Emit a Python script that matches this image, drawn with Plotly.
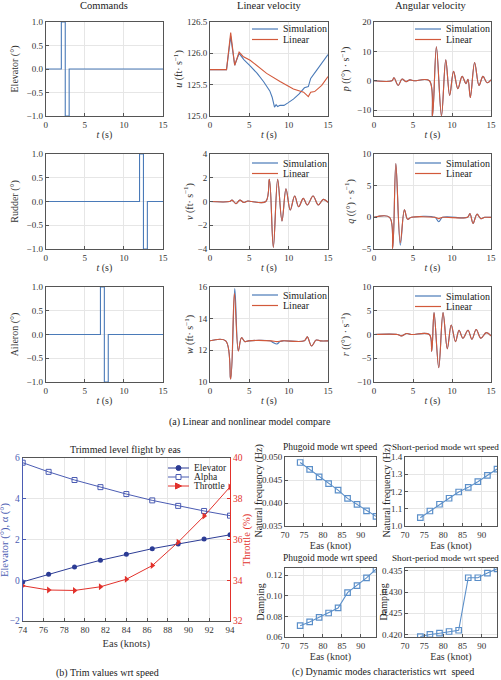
import plotly.graph_objects as go

W, H = 501, 680

# ---------------- (a) commands, deg ----------------
elev_t = [0, 2, 2, 2.5, 2.5, 3, 3, 15]
elev_cmd = [0, 0, 1, 1, -1, -1, 0, 0]
rud_t = [0, 12, 12, 12.5, 12.5, 13, 13, 15]
rud_cmd = [0, 0, 1, 1, -1, -1, 0, 0]
ail_t = [0, 7, 7, 7.5, 7.5, 8, 8, 15]
ail_cmd = [0, 0, 1, 1, -1, -1, 0, 0]

# linear velocity (ft/s)
u_sim_t = [0, 2.1, 2.63, 3.14, 3.7, 4.3, 5.1, 6.0, 6.8, 7.6, 7.9, 8.05, 8.2, 8.4, 8.6,
           8.9, 9.4, 9.9, 10.6, 11.3, 12.0, 12.5, 12.8, 13.5, 14.2, 15]
u_sim = [125.74, 125.74, 126.27, 125.81, 126.0, 125.9, 125.8, 125.68, 125.55, 125.4,
         125.3, 125.22, 125.14, 125.18, 125.15, 125.17, 125.17, 125.21, 125.27, 125.35,
         125.45, 125.47, 125.6, 125.72, 125.84, 125.98]
u_lin_t = [0, 2.1, 2.63, 3.14, 3.7, 4.2, 5.1, 6.0, 7.2, 8.9, 10.6, 11.9, 12.5, 12.8,
           13.3, 14.2, 15]
u_lin = [125.74, 125.74, 126.33, 125.81, 126.02, 125.95, 125.89, 125.8, 125.68, 125.55,
         125.43, 125.38, 125.31, 125.38, 125.39, 125.49, 125.63]

v_t = [0, 2.5, 2.8, 3.3, 3.8, 4.3, 4.8, 5.3, 7.1, 7.55, 8.05, 8.6, 9.15, 9.66, 10.2,
       10.76, 11.27, 11.86, 12.37, 13.1, 13.77, 14.4, 15]
v_sim = [0, 0, 0.12, -0.18, 0.12, -0.08, 0.04, 0, 0, 1.87, -3.86, 1.87, -1.64, 1.08,
         -0.72, 0.46, -0.44, 0.26, -0.3, 0.46, -0.3, 0.18, -0.07]
v_lin = [0, 0, 0.12, -0.18, 0.12, -0.08, 0.04, 0, 0, 1.87, -3.86, 1.87, -1.64, 1.08,
         -0.72, 0.46, -0.44, 0.26, -0.3, 0.46, -0.3, 0.18, -0.07]

w_sim_t = [0, 2.0, 2.63, 3.15, 3.6, 4.0, 4.45, 4.9, 7.6, 8.0, 8.5, 8.9, 9.3, 12.0,
           12.37, 12.9, 13.5, 14.0, 15]
w_sim = [12.6, 12.6, 10.19, 15.9, 11.96, 12.8, 12.55, 12.6, 12.6, 12.5, 12.4, 12.55,
         12.6, 12.6, 12.85, 12.27, 12.65, 12.6, 12.6]
w_lin_t = [0, 2.0, 2.63, 3.1, 3.6, 4.0, 4.45, 4.9, 7.8, 8.5, 9.2, 12.0, 12.37, 12.9,
           13.5, 14.0, 15]
w_lin = [12.6, 12.6, 10.19, 15.6, 11.96, 12.8, 12.55, 12.6, 12.6, 12.55, 12.6, 12.6,
         12.85, 12.27, 12.65, 12.6, 12.6]

# angular velocity (deg/s)
p_t = [0, 2.3, 2.56, 3.1, 3.6, 4.1, 4.6, 5.1, 7.1, 7.5, 8.0, 8.65, 9.2, 9.7, 10.2,
       10.75, 11.3, 11.8, 12.05, 12.35, 12.9, 13.46, 13.97, 14.5, 15]
p_sim = [0, 0, 1.0, -1.6, 0.6, -0.3, 0.3, 0, 0, -12, 11.6, -12, 7.1, -5.0, 3.2, -2.7,
         1.5, -1.0, 0.5, -5.7, 6.2, -1.6, 1.5, -0.7, 0.3]
p_lin = [0, 0, 1.0, -1.6, 0.6, -0.3, 0.3, 0, 0, -12, 11.6, -12, 7.1, -5.0, 3.2, -2.7,
         1.5, -1.0, 0.5, -5.7, 6.2, -1.6, 1.5, -0.7, 0.3]

q_t = [0, 2.0, 2.4, 2.8, 3.37, 3.9, 4.3, 4.8, 7.8, 8.3, 8.8, 12.0, 12.3, 12.7, 13.2,
       13.7, 14.2, 15]
q_sim = [0, 0, -4.9, 8.5, -4.4, 1.2, -0.3, 0, 0, -0.7, 0, 0, 0.6, -0.95, 0.5, -0.2, 0, 0]
q_lin = [0, 0, -4.9, 8.5, -4.0, 1.2, -0.3, 0, 0, -0.2, 0, 0, 0.6, -0.95, 0.5, -0.2, 0, 0]

r_t = [0, 3.0, 3.5, 4.2, 4.8, 7.1, 7.4, 7.7, 8.3, 8.85, 9.4, 9.9, 10.45, 10.9, 11.4,
       12.05, 12.55, 13.1, 13.7, 14.4, 15]
r_sim = [0, 0, -0.3, 0.2, 0, 0, -3.5, 4.6, -7, 4.6, -3, 2, -1.5, 0.9, -0.8, 0.9, -1.0,
         1.05, -0.8, 0.4, -0.3]
r_lin = [0, 0, -0.3, 0.2, 0, 0, -3.5, 4.6, -7, 4.6, -3, 2, -1.5, 0.9, -0.8, 0.9, -1.0,
         1.05, -0.8, 0.4, -0.3]

# ---------------- (b) trim values ----------------
eas = [74, 76.5, 79, 81.5, 84, 86.5, 89, 91.5, 94]
trim_elev = [-0.08, 0.30, 0.65, 0.98, 1.27, 1.55, 1.78, 2.02, 2.23]
trim_alpha = [5.77, 5.32, 4.92, 4.57, 4.23, 3.92, 3.65, 3.40, 3.17]
trim_throttle = [33.73, 33.52, 33.50, 33.68, 34.05, 34.72, 35.87, 37.15, 38.58]

# ---------------- (c) dynamic modes ----------------
phug_freq = [0.0488, 0.0473, 0.0457, 0.0442, 0.0428, 0.0410, 0.0397, 0.0383, 0.0371]
sp_freq = [1.048, 1.087, 1.126, 1.161, 1.197, 1.224, 1.257, 1.294, 1.330]
phug_damp = [0.0710, 0.0746, 0.0791, 0.0833, 0.0882, 0.1031, 0.1099, 0.1174, 0.1258]
sp_damp = [0.4195, 0.4200, 0.4203, 0.4207, 0.4210, 0.4334, 0.4334, 0.4345, 0.4355]

SIM = '#4a7ab8'
LIN = '#d2593b'
AX = '#555555'
GRID = '#e6e6e6'
FONT = 'Liberation Serif'
TXT = '#222222'


def xdom(a, b):
    return [a / W, b / W]


def ydom(top, bot):
    return [1 - bot / H, 1 - top / H]


def axis(domain, rng, dtick, anchor, title=None, fmt=None, tick0=0, standoff=4,
         tsize=10, **kw):
    d = dict(domain=domain, range=rng, dtick=dtick, tick0=tick0, anchor=anchor,
             automargin=False, showline=True, mirror=True, linecolor=AX, linewidth=1,
             ticks='inside', ticklen=3, tickcolor=AX,
             showgrid=True, gridcolor=GRID, gridwidth=1, zeroline=False,
             tickfont=dict(size=9, family=FONT, color='#333'))
    if fmt:
        d['tickformat'] = fmt
    if title:
        d['title'] = dict(text=title, font=dict(size=tsize, family=FONT, color='#333'),
                          standoff=standoff)
    d.update(kw)
    return d


fig = go.Figure()
layout = {}
shapes = []
annotations = []


def text(txt, x, y, size=10, anchor='center', color=TXT, angle=0):
    annotations.append(dict(text=txt, x=x / W, y=1 - y / H, xref='paper', yref='paper',
                            showarrow=False, xanchor=anchor, yanchor='middle',
                            textangle=angle,
                            font=dict(size=size, family=FONT, color=color)))


def legend_line(x0, x1, y, color, width=1.2):
    shapes.append(dict(type='line', xref='paper', yref='paper', x0=x0 / W, x1=x1 / W,
                       y0=1 - y / H, y1=1 - y / H, line=dict(color=color, width=width)))


cols = [(45.7, 163), (210, 328), (374, 491)]
rows = [(22, 116), (154, 249), (287, 382)]
stand = [6, 2, 5]

# (ref index, col, row, yrange, dtick, fmt, ytitle)
top_panels = [
    (1, 0, 0, [-1, 1], 0.5, '.1f', 'Elevator (°)'),
    (2, 1, 0, [125, 126.5], 0.5, '.1f', '<i>u</i> (ft· s<sup>−1</sup>)'),
    (3, 2, 0, [-12, 20], 10, None, '<i>p</i> ((°) · s<sup>−1</sup>)'),
    (4, 0, 1, [-1, 1], 0.5, '.1f', 'Rudder (°)'),
    (5, 1, 1, [-4, 4], 2, None, '<i>v</i> (ft· s<sup>−1</sup>)'),
    (6, 2, 1, [-5, 10], 5, None, '<i>q</i> ((°) · s<sup>−1</sup>)'),
    (7, 0, 2, [-1, 1], 0.5, '.1f', 'Aileron (°)'),
    (8, 1, 2, [10, 16], 2, None, '<i>w</i> (ft· s<sup>−1</sup>)'),
    (9, 2, 2, [-10, 10], 5, None, '<i>r</i> ((°) · s<sup>−1</sup>)'),
]

for n, c, r, yr, dt, fmt, yt in top_panels:
    layout['xaxis%d' % n] = axis(xdom(*cols[c]), [0, 15], 5, 'y%d' % n,
                                 title='<i>t</i> (s)', standoff=2)
    layout['yaxis%d' % n] = axis(ydom(*rows[r]), yr, dt, 'x%d' % n,
                                 title=yt, fmt=fmt, standoff=stand[c])

layout['xaxis'] = layout.pop('xaxis1')
layout['yaxis'] = layout.pop('yaxis1')

# commands
for n, t, v in [(1, elev_t, elev_cmd), (4, rud_t, rud_cmd), (7, ail_t, ail_cmd)]:
    fig.add_trace(go.Scatter(x=t, y=v, mode='lines', line=dict(color=SIM, width=1.1),
                             xaxis='x' if n == 1 else 'x%d' % n,
                             yaxis='y' if n == 1 else 'y%d' % n,
                             showlegend=False))

# sim / linear comparison panels: (axis, sim t, sim, lin t, lin, shape, legend col, legend y)
comp = [
    (2, u_sim_t, u_sim, u_lin_t, u_lin, 'linear', 1, 29),
    (5, v_t, v_sim, v_t, v_lin, 'spline', 1, 163),
    (8, w_sim_t, w_sim, w_lin_t, w_lin, 'spline', 1, 295),
    (3, p_t, p_sim, p_t, p_lin, 'spline', 2, 29),
    (6, q_t, q_sim, q_t, q_lin, 'spline', 2, 163),
    (9, r_t, r_sim, r_t, r_lin, 'spline', 2, 296),
]
leg_x = {1: (252, 278, 281), 2: (415, 441, 444)}
for n, ts, ys, tl, yl, shape, lc, ly in comp:
    fig.add_trace(go.Scatter(x=ts, y=ys, mode='lines', name='Simulation',
                             line=dict(color=SIM, width=1.1, shape=shape),
                             xaxis='x%d' % n, yaxis='y%d' % n, showlegend=False))
    fig.add_trace(go.Scatter(x=tl, y=yl, mode='lines', name='Linear',
                             line=dict(color=LIN, width=1.1, shape=shape),
                             xaxis='x%d' % n, yaxis='y%d' % n, showlegend=False))
    x0, x1, xt = leg_x[lc]
    legend_line(x0, x1, ly, SIM)
    text('Simulation', xt, ly, 10, 'left')
    legend_line(x0, x1, ly + 10.5, LIN)
    text('Linear', xt, ly + 10.5, 10, 'left')

# ---------------- (b) trim chart ----------------
BLUE_D = '#2c3c95'
BLUE_A = '#4b5cb3'
RED = '#e2312b'
layout['xaxis10'] = axis(xdom(22.7, 230), [74, 94], 2, 'y10', title='Eas (knots)',
                         tick0=74, standoff=5, tsize=10.5)
layout['yaxis10'] = axis(ydom(458, 621), [-2, 6], 2, 'x10',
                         linecolor=BLUE_A, tickcolor=BLUE_A,
                         tickfont=dict(size=9.5, family=FONT, color=BLUE_A),
                         mirror=False)
layout['yaxis15'] = axis(ydom(458, 621), [32, 40], 2, 'x10',
                         overlaying='y10', side='right',
                         showgrid=False, linecolor=RED, tickcolor=RED, mirror=False,
                         tickfont=dict(size=9.5, family=FONT, color=RED))
text('Elevator (°), α (°)', 5, 540, 10.5, color=BLUE_A, angle=-90)
text('Throttle (%)', 247, 540, 10.5, color=RED, angle=-90)

fig.add_trace(go.Scatter(x=eas, y=trim_elev, name='Elevator', mode='lines+markers',
                         line=dict(color=BLUE_D, width=1),
                         marker=dict(symbol='circle', size=5, color=BLUE_D),
                         xaxis='x10', yaxis='y10', showlegend=False))
fig.add_trace(go.Scatter(x=eas, y=trim_alpha, name='Alpha', mode='lines+markers',
                         line=dict(color=BLUE_A, width=1),
                         marker=dict(symbol='square-open', size=5, color=BLUE_A),
                         xaxis='x10', yaxis='y10', showlegend=False))
fig.add_trace(go.Scatter(x=eas, y=trim_throttle, name='Throttle', mode='lines+markers',
                         line=dict(color=RED, width=1),
                         marker=dict(symbol='triangle-right', size=6, color=RED),
                         xaxis='x10', yaxis='y15', showlegend=False))

# trim legend
for name, color, kind, ly in [('Elevator', BLUE_D, 'circle', 468),
                              ('Alpha', BLUE_A, 'square', 477),
                              ('Throttle', RED, 'tri', 486)]:
    legend_line(168, 189, ly, color, 1)
    base = dict(xref='paper', yref='paper', xsizemode='pixel', ysizemode='pixel',
                xanchor=178.5 / W, yanchor=1 - ly / H, line=dict(color=color, width=1))
    if kind == 'circle':
        shapes.append(dict(type='circle', x0=-2.5, x1=2.5, y0=-2.5, y1=2.5,
                           fillcolor=color, **base))
    elif kind == 'square':
        shapes.append(dict(type='rect', x0=-2.5, x1=2.5, y0=-2.5, y1=2.5,
                           fillcolor='white', **base))
    else:
        shapes.append(dict(type='path', path='M -3,-3 L 3,0 L -3,3 Z',
                           fillcolor=color, **base))
    text(name, 192, ly, 9.5, 'left')

# ---------------- (c) dynamic modes ----------------
MODE = '#5b8fc9'
modes = [
    (11, (285, 376), (457, 526), phug_freq, [0.035, 0.050], 0.005, 0.035, '.3f',
     'Natural frequency (Hz)', 258),
    (12, (405, 497), (457, 526), sp_freq, [1.0, 1.4], 0.1, 1.0, '.1f',
     'Natural frequency (Hz)', 386),
    (13, (285, 376), (568, 637), phug_damp, [0.06, 0.127], 0.02, 0.06, '.2f',
     'Damping', 260),
    (14, (405, 497), (568, 637), sp_damp, [0.4194, 0.4357], 0.005, 0.42, '.3f',
     'Damping', 383),
]
for n, xd, yd, vals, yr, dt, t0, fmt, yt, tx in modes:
    layout['xaxis%d' % n] = axis(xdom(*xd), [70, 94], 5, 'y%d' % n, title='Eas (knot)',
                                 tick0=70, standoff=2)
    layout['yaxis%d' % n] = axis(ydom(*yd), yr, dt, 'x%d' % n, fmt=fmt, tick0=t0)
    text(yt, tx, (yd[0] + yd[1]) / 2, 10, angle=-90)
    fig.add_trace(go.Scatter(x=eas, y=vals, mode='lines+markers', showlegend=False,
                             line=dict(color=MODE, width=1.1),
                             marker=dict(symbol='square-open', size=5.5, color=MODE,
                                         line=dict(width=1.2)),
                             xaxis='x%d' % n, yaxis='y%d' % n))

# titles and captions
text('Commands', 104, 6, 10.5)
text('Linear velocity', 269, 6, 10.5)
text('Angular velocity', 431, 6, 10.5)
text('(a) Linear and nonlinear model compare', 250, 422, 10)
text('Trimmed level flight by eas', 125, 449, 10)
text('(b) Trim values wrt speed', 107, 673, 10)
text('Phugoid mode wrt speed', 330, 447, 9.5)
text('Short-period mode wrt speed', 445, 447, 9.2)
text('Phugoid mode wrt speed', 330, 558, 9.5)
text('Short-period mode wrt speed', 445, 558, 9.2)
text('(c) Dynamic modes characteristics wrt  speed', 383, 672, 10)

fig.update_layout(width=W, height=H, margin=dict(l=0, r=0, t=0, b=0, pad=0),
                  paper_bgcolor='white', plot_bgcolor='white', showlegend=False,
                  font=dict(family=FONT, size=10, color=TXT),
                  shapes=shapes, annotations=annotations, **layout)

# the page body keeps an 8px default margin; drop it so the figure fills the window
fig.write_html("out.html", config={'displayModeBar': False},
               post_script="document.body.style.margin = '0px';")
